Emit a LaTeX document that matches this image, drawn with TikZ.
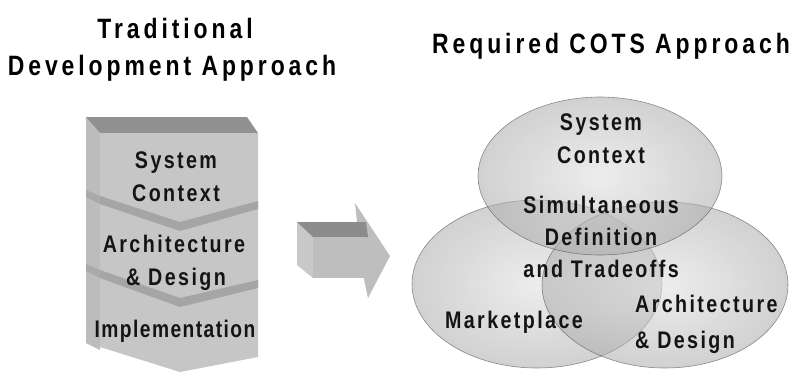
\documentclass[tikz,border=0pt]{standalone}
\usepackage{fontspec}
\newfontfamily\lblfont[FakeStretch=0.82,LetterSpace=10]{Liberation Sans}
\newfontfamily\lblfontn[FakeStretch=0.80,LetterSpace=6]{Liberation Sans}
\newfontfamily\ttlfont[FakeStretch=0.82,LetterSpace=14]{Liberation Sans}
\definecolor{stfront}{RGB}{198,198,198}
\definecolor{stside}{RGB}{188,188,188}
\definecolor{sttop}{RGB}{145,145,145}
\definecolor{stband}{RGB}{165,165,165}
\definecolor{arfront}{RGB}{190,190,190}
\definecolor{arside}{RGB}{200,200,200}
\definecolor{artop}{RGB}{140,140,140}
\definecolor{txt}{RGB}{20,20,20}
\tikzset{
  ttl/.style={anchor=base, inner sep=0pt, text=black, font=\ttlfont\bfseries\fontsize{28}{30}\selectfont},
  lbl/.style={anchor=base, inner sep=0pt, text=txt, font=\lblfont\bfseries\fontsize{24}{26}\selectfont},
  lbln/.style={lbl, font=\lblfontn\bfseries\fontsize{24}{26}\selectfont},
  venn/.style={shade, inner color=gray!25, outer color=gray!65, opacity=0.55, draw=gray!60!black, draw opacity=0.6, line width=0.6pt},
}
\begin{document}
\begin{tikzpicture}[x=1pt,y=-1pt]
\useasboundingbox[fill=white] (0,0) rectangle (796,376);
% titles
\node[ttl] (t1) at (175,38) {Traditional};
\node[ttl] (t2) at (172,75) {Development Approach};
\node[ttl] (t3) at (611,53) {Required COTS Approach};
% stack
\fill[stside] (86,117) -- (100,133) -- (100,350) -- (86,343) -- cycle;
\fill[sttop] (86,117) -- (247,117) -- (258,133) -- (100,133) -- cycle;
\fill[stfront] (100,133) -- (258,133) -- (258,357) -- (180,372) -- (100,347) -- cycle;
\fill[stband] (100,196) -- (180,222) -- (258,201) -- (258,209) -- (180,231) -- (100,204) -- cycle;
\fill[stband] (100,270) -- (180,298) -- (258,280) -- (258,288) -- (180,307) -- (100,278) -- cycle;
\fill[stband!80!stside] (86,190) -- (100,196) -- (100,204) -- (86,197) -- cycle;
\fill[stband!80!stside] (86,264) -- (100,270) -- (100,278) -- (86,271) -- cycle;
\node[lbl] (s1) at (176,168) {System};
\node[lbl] (s2) at (176,201) {Context};
\node[lbl] (s3) at (174,252) {Architecture};
\node[lbl] (s4) at (176,285) {\& Design};
\node[lbln] (s5) at (175,337) {Implementation};
% arrow
\fill[arfront] (355,203) -- (390,256) -- (368,298) -- (362,270) -- cycle;
\fill[arside] (297,222) -- (313,237) -- (313,278) -- (297,265) -- cycle;
\fill[artop] (297,222) -- (366,222) -- (368,237) -- (313,237) -- cycle;
\fill[arfront] (313,237) -- (366,237) -- (366,278) -- (313,278) -- cycle;
% venn
\path[venn] (537,284) ellipse [x radius=125, y radius=84];
\path[venn] (665,285) ellipse [x radius=123, y radius=83];
\path[venn] (600,176) ellipse [x radius=122, y radius=79];
\node[lbl] (v1) at (601,130) {System};
\node[lbl] (v2) at (601,163) {Context};
\node[lbl] (v3) at (601,213) {Simultaneous};
\node[lbl] (v4) at (601,245) {Definition};
\node[lbl] (v5) at (601,277) {and Tradeoffs};
\node[lbl] (v6) at (514,328) {Marketplace};
\node[lbl,anchor=base west] (v7) at (635,312) {Architecture};
\node[lbl,anchor=base west] (v8) at (635,348) {\& Design};
\end{tikzpicture}
\end{document}
